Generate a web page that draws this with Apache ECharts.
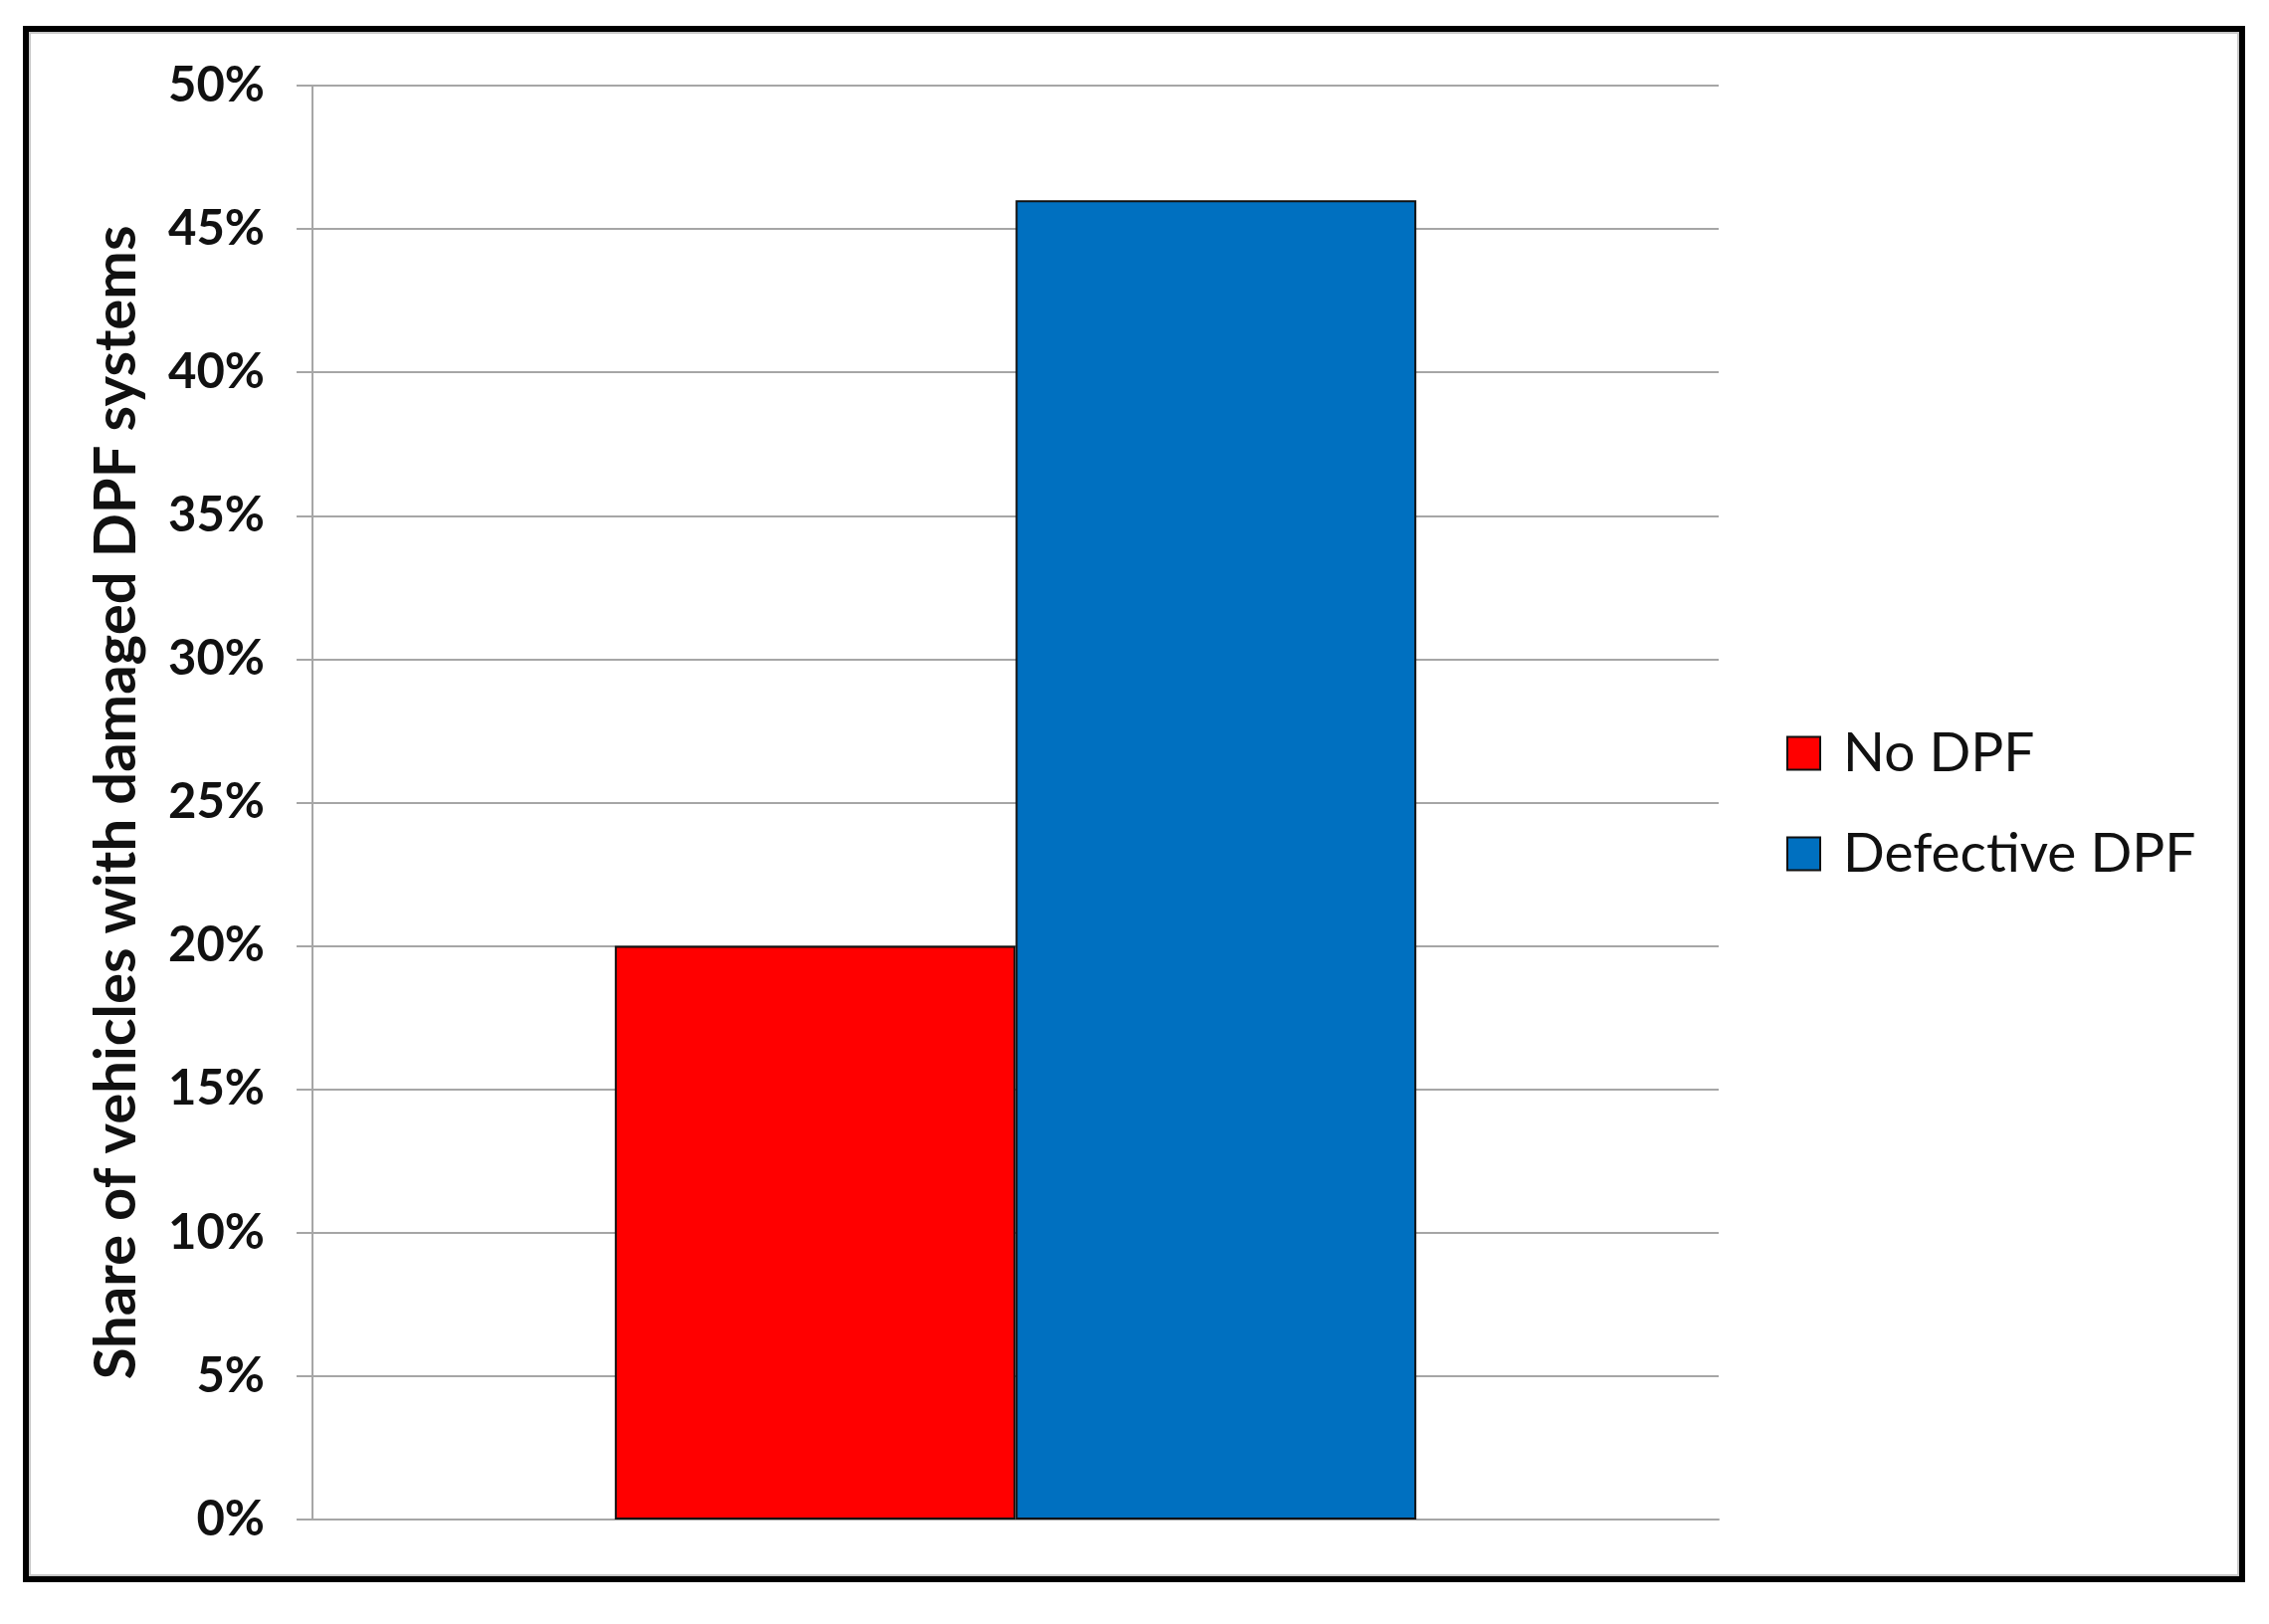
<!DOCTYPE html>
<html>
<head>
<meta charset="utf-8">
<script src="https://cdn.jsdelivr.net/npm/echarts@6/dist/echarts.min.js"></script>
<style>
  html, body { margin: 0; padding: 0; background: #fff; }
  #chart { width: 2280px; height: 1632px; }
</style>
</head>
<body>
<div id="chart"></div>
<script>
// data
const categories = ["DPF"];
const seriesNames = ["No DPF", "Defective DPF"];
const noDpf = [20];
const defectiveDpf = [46];
const yTicks = [0, 5, 10, 15, 20, 25, 30, 35, 40, 45, 50];

const chart = echarts.init(document.getElementById("chart"));

const gridColor = "#a6a6a6";

const option = {
  backgroundColor: "#fff",
  animation: false,
  textStyle: { fontFamily: "Lato, 'Open Sans', sans-serif" },
  graphic: [
    {
      type: "rect",
      shape: { x: 26, y: 29, width: 2227, height: 1558 },
      style: { fill: "none", stroke: "#000", lineWidth: 6 },
      silent: true
    },
    {
      type: "rect",
      shape: { x: 30, y: 33, width: 2219, height: 1550 },
      style: { fill: "none", stroke: "#c8c8c8", lineWidth: 2 },
      silent: true
    }
  ],
  legend: {
    orient: "vertical",
    left: 1790,
    top: 724,
    itemWidth: 33,
    itemHeight: 33,
    itemGap: 45,
    icon: "rect",
    textStyle: {
      fontFamily: "Lato, sans-serif",
      fontSize: 55,
      color: "#111",
      lineHeight: 56,
      padding: [0, 0, 0, 18]
    },
    data: seriesNames
  },
  grid: { left: 314, right: 553, top: 86, bottom: 105 },
  xAxis: {
    type: "category",
    data: categories,
    axisLine: { show: true, lineStyle: { color: gridColor, width: 2 } },
    axisTick: { show: false },
    axisLabel: { show: false }
  },
  yAxis: {
    type: "value",
    min: yTicks[0],
    max: yTicks[yTicks.length - 1],
    interval: 5,
    name: "Share of vehicles with damaged DPF systems",
    nameLocation: "middle",
    nameGap: 168,
    nameTextStyle: {
      fontFamily: "Lato, sans-serif",
      fontWeight: "bold",
      fontSize: 58,
      color: "#111"
    },
    axisLine: { show: true, lineStyle: { color: gridColor, width: 2 } },
    axisTick: { show: true, length: 16, lineStyle: { color: gridColor, width: 2 } },
    axisLabel: {
      margin: 48,
      fontFamily: "Lato, sans-serif",
      fontWeight: "bold",
      fontSize: 49,
      color: "#111",
      formatter: v => v + "%"
    },
    splitLine: { show: true, lineStyle: { color: gridColor, width: 2 } }
  },
  series: [
    {
      name: seriesNames[0],
      type: "bar",
      data: noDpf,
      barGap: "0%",
      barCategoryGap: "43%",
      itemStyle: { color: "#ff0000", borderColor: "#111", borderWidth: 2 }
    },
    {
      name: seriesNames[1],
      type: "bar",
      data: defectiveDpf,
      barGap: "0%",
      barCategoryGap: "43%",
      itemStyle: { color: "#0070c0", borderColor: "#111", borderWidth: 2 }
    }
  ]
};

chart.setOption(option);
</script>
</body>
</html>
